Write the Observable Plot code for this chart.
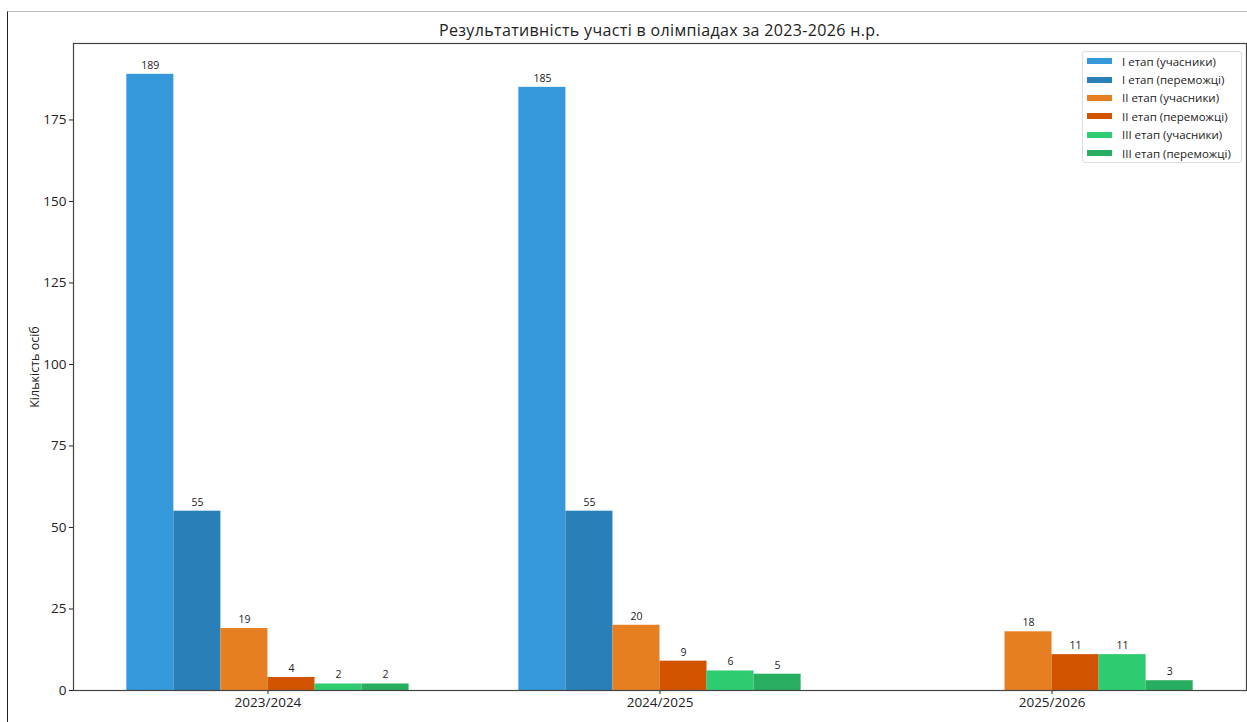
<!DOCTYPE html>
<html>
<head>
<meta charset="utf-8">
<script src="https://cdn.jsdelivr.net/npm/d3@7"></script>
<script src="https://cdn.jsdelivr.net/npm/@observablehq/plot@0.6"></script>
<style>
  html, body { margin: 0; padding: 0; background: #fff; }
  body { width: 1247px; height: 722px; position: relative; overflow: hidden; font-family: "Open Sans", sans-serif; }
  #edge { position: absolute; left: 7px; top: 11px; right: 0; bottom: 0; border-left: 1.5px solid #222; border-top: 1px solid #bbb; }
  #chart { position: absolute; left: 0; top: 0; }
  #title { position: absolute; top: 19px; left: 73px; width: 1173px; text-align: center; font-size: 16px; letter-spacing: 0.35px; color: #222; }
  #legend { position: absolute; left: 1082px; top: 51px; width: 160px; height: 112px; border: 1px solid #ddd; border-radius: 3px; background: #fff; font-size: 11.5px; color: #222; padding-top: 0px; box-sizing: border-box; }
  #legend .row { height: 18.4px; display: flex; align-items: center; }
  #legend .sw { width: 25px; height: 6px; margin-left: 4px; margin-right: 10px; }
</style>
</head>
<body>
<div id="edge"></div>
<div id="chart"></div>
<div id="title">Результативність участі в олімпіадах за 2023-2026 н.р.</div>
<div id="legend"></div>
<script>
const years = ["2023/2024", "2024/2025", "2025/2026"];
const seriesNames = [
  "I етап (учасники)",
  "I етап (переможці)",
  "II етап (учасники)",
  "II етап (переможці)",
  "III етап (учасники)",
  "III етап (переможці)"
];
const stage1Participants = [189, 185, null];
const stage1Winners = [55, 55, null];
const stage2Participants = [19, 20, 18];
const stage2Winners = [4, 9, 11];
const stage3Participants = [2, 6, 11];
const stage3Winners = [2, 5, 3];
const seriesColors = ["#3498db", "#2980b9", "#e67e22", "#d35400", "#2ecc71", "#27ae60"];
const yTicks = [0, 25, 50, 75, 100, 125, 150, 175];

const seriesValues = [stage1Participants, stage1Winners, stage2Participants, stage2Winners, stage3Participants, stage3Winners];
const barW = 0.12;
const rows = [];
seriesValues.forEach((vals, j) => {
  vals.forEach((v, i) => {
    if (v == null) return;
    rows.push({
      series: seriesNames[j],
      year: years[i],
      value: v,
      x1: i + (j - 3) * barW,
      x2: i + (j - 2) * barW,
      xm: i + (j - 2.5) * barW
    });
  });
});

const font = "Open Sans, sans-serif";
const chart = Plot.plot({
  width: 1247,
  height: 722,
  marginLeft: 73,
  marginRight: 1,
  marginTop: 43,
  marginBottom: 32,
  style: { fontFamily: font, fontSize: "13.5px", color: "#222", background: "transparent" },
  x: { domain: [-0.496, 2.496], ticks: [0, 1, 2], tickFormat: d => years[d], tickSize: 4, tickPadding: 3, label: null },
  y: { domain: [0, 198.45], ticks: yTicks, tickSize: 4, tickPadding: 3, label: "Кількість осіб", labelAnchor: "center", labelArrow: "none", labelOffset: 43 },
  color: { domain: seriesNames, range: seriesColors },
  marks: [
    Plot.rect(rows, { x1: "x1", x2: "x2", y1: 0, y2: "value", fill: "series" }),
    Plot.text(rows, { x: "xm", y: "value", text: d => String(d.value), dy: -9, fontSize: 10.5, fill: "#222" }),
    Plot.frame({ stroke: "#444", strokeWidth: 1.2 })
  ]
});
document.getElementById("chart").appendChild(chart);
chart.querySelectorAll("[aria-label='y-axis label'] text").forEach(t => t.setAttribute("font-size", "12.5"));

const legend = document.getElementById("legend");
seriesNames.forEach((name, j) => {
  const row = document.createElement("div");
  row.className = "row";
  const sw = document.createElement("div");
  sw.className = "sw";
  sw.style.background = seriesColors[j];
  const label = document.createElement("span");
  label.textContent = name;
  row.appendChild(sw);
  row.appendChild(label);
  legend.appendChild(row);
});
</script>
</body>
</html>
